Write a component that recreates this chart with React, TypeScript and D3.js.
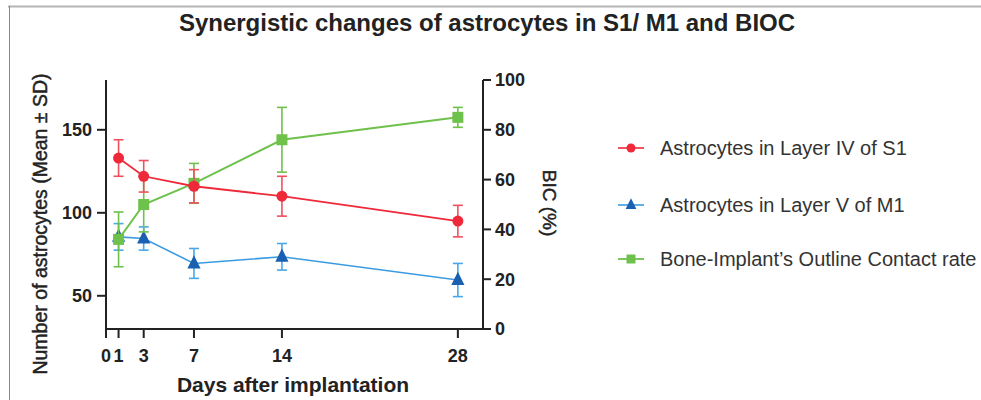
import React from "react";
import * as d3 from "d3";

const days = [1, 3, 7, 14, 28];
const xTicks = [0, 1, 3, 7, 14, 28];
const leftTicks = [50, 100, 150];
const rightTicks = [0, 20, 40, 60, 80, 100];

const s1Mean = [133, 122, 116, 110, 95];
const s1Sd = [11, 9.5, 10, 12, 9.5];
const m1Mean = [85.5, 84.5, 69.5, 73.5, 59.5];
const m1Sd = [8, 7, 9, 8, 10];
const bicMean = [36, 50, 58.5, 76, 85];
const bicSd = [11, 11, 8, 13, 4];

const seriesNames = [
  "Astrocytes in Layer IV of S1",
  "Astrocytes in Layer V of M1",
  "Bone-Implant\u2019s Outline Contact rate",
];

const FONT = "'Liberation Sans', Arial, Helvetica, sans-serif";

export default function App() {
  const W = 981;
  const H = 400;
  const x = d3.scaleLinear().domain([0, 30]).range([106, 483]);
  const yL = d3.scaleLinear().domain([30, 180]).range([329, 80]);
  const yR = d3.scaleLinear().domain([0, 100]).range([329, 80]);

  const red = "#ee2a3a";
  const redBar = "#f0505e";
  const blueLine = "#3b9be0";
  const blueMark = "#1a5fb0";
  const blueBar = "#4aa7e8";
  const green = "#6ec14b";

  const lineGen = (ys: d3.ScaleLinear<number, number>, vals: number[]) =>
    d3
      .line<number>()
      .x((_, i) => x(days[i]))
      .y((v) => ys(v))(vals) || "";

  const errBars = (
    ys: d3.ScaleLinear<number, number>,
    mean: number[],
    sd: number[],
    color: string,
    key: string
  ) =>
    mean.map((m, i) => {
      const cx = x(days[i]);
      const t = ys(m + sd[i]);
      const b = ys(m - sd[i]);
      const cw = 5;
      return (
        <g key={key + i} stroke={color} strokeWidth={1.6} fill="none">
          <line x1={cx} x2={cx} y1={t} y2={b} />
          <line x1={cx - cw} x2={cx + cw} y1={t} y2={t} />
          <line x1={cx - cw} x2={cx + cw} y1={b} y2={b} />
        </g>
      );
    });

  const triPath = (cx: number, cy: number, s: number) =>
    `M${cx},${cy - s * 0.75}L${cx + s * 0.6},${cy + s * 0.45}L${cx - s * 0.6},${cy + s * 0.45}Z`;

  const legendY = [148, 205, 259];
  const legendX = 631;

  return (
    <div style={{ position: "absolute", left: 0, top: 0 }}>
      <svg width={W} height={H} style={{ display: "block", background: "#fff" }}>
        <rect x={0} y={0} width={W} height={H} fill="#fff" />
        {/* frame lines */}
        <line x1={8} x2={W} y1={6.5} y2={6.5} stroke="#b4b4b4" strokeWidth={2} />
        <line x1={9.5} x2={9.5} y1={6} y2={H} stroke="#8a8a8a" strokeWidth={1} />

        {/* title */}
        <text
          x={487}
          y={31}
          textAnchor="middle"
          fontFamily={FONT}
          fontWeight="bold"
          fontSize={24}
          fill="#222"
        >
          Synergistic changes of astrocytes in S1/ M1 and BIOC
        </text>

        {/* axes */}
        <g stroke="#222" strokeWidth={2} fill="none">
          <line x1={x(0)} x2={x(0)} y1={yL(180)} y2={329} />
          <line x1={x(0) - 1} x2={x(30)} y1={329} y2={329} />
          <line x1={x(30)} x2={x(30)} y1={yR(100)} y2={329} />
          {leftTicks.map((t) => (
            <line key={"lt" + t} x1={x(0) - 9} x2={x(0)} y1={yL(t)} y2={yL(t)} />
          ))}
          {rightTicks.map((t) => (
            <line key={"rt" + t} x1={x(30)} x2={x(30) + 8} y1={yR(t)} y2={yR(t)} />
          ))}
          {xTicks.map((t) => (
            <line key={"xt" + t} x1={x(t)} x2={x(t)} y1={329} y2={338} />
          ))}
        </g>
        <g fontFamily={FONT} fontWeight="bold" fontSize={18} fill="#222">
          {leftTicks.map((t) => (
            <text key={"ltl" + t} x={x(0) - 14} y={yL(t)} dy="0.36em" textAnchor="end">
              {t}
            </text>
          ))}
          {rightTicks.map((t) => (
            <text key={"rtl" + t} x={x(30) + 12} y={yR(t)} dy="0.36em" textAnchor="start">
              {t}
            </text>
          ))}
          {xTicks.map((t) => (
            <text key={"xtl" + t} x={x(t)} y={362} textAnchor="middle">
              {t}
            </text>
          ))}
        </g>

        {/* axis titles */}
        <text
          transform={`translate(47,224) rotate(-90)`}
          textAnchor="middle"
          fontFamily={FONT}
          fontSize={19.5}
          fill="#222"
          stroke="#222"
          strokeWidth={0.45}
        >
          Number of astrocytes (Mean ± SD)
        </text>
        <text
          transform={`translate(543,203) rotate(90)`}
          textAnchor="middle"
          fontFamily={FONT}
          fontSize={19}
          fill="#222"
          stroke="#222"
          strokeWidth={0.45}
        >
          BIC (%)
        </text>
        <text
          x={293}
          y={392}
          textAnchor="middle"
          fontFamily={FONT}
          fontWeight="bold"
          fontSize={21}
          fill="#222"
        >
          Days after implantation
        </text>

        {/* blue series (M1) */}
        {errBars(yL, m1Mean, m1Sd, blueBar, "be")}
        <path d={lineGen(yL, m1Mean)} stroke={blueLine} strokeWidth={1.6} fill="none" />
        {m1Mean.map((v, i) => (
          <path key={"bm" + i} d={triPath(x(days[i]), yL(v), 11)} fill={blueMark} />
        ))}

        {/* green series (BIC) */}
        {errBars(yR, bicMean, bicSd, green, "ge")}
        <path d={lineGen(yR, bicMean)} stroke={green} strokeWidth={2} fill="none" />
        {bicMean.map((v, i) => (
          <rect
            key={"gm" + i}
            x={x(days[i]) - 5.5}
            y={yR(v) - 5.5}
            width={11}
            height={11}
            fill={green}
          />
        ))}

        {/* red series (S1) */}
        {errBars(yL, s1Mean, s1Sd, redBar, "re")}
        <path d={lineGen(yL, s1Mean)} stroke={red} strokeWidth={1.8} fill="none" />
        {s1Mean.map((v, i) => (
          <circle key={"rm" + i} cx={x(days[i])} cy={yL(v)} r={5.5} fill={red} />
        ))}

        {/* legend */}
        <g fontFamily={FONT} fontSize={20} fill="#333">
          <line x1={legendX - 13} x2={legendX + 13} y1={legendY[0]} y2={legendY[0]} stroke={red} strokeWidth={1.6} />
          <circle cx={legendX} cy={legendY[0]} r={4.5} fill={red} />
          <line x1={legendX - 13} x2={legendX + 13} y1={legendY[1]} y2={legendY[1]} stroke={blueLine} strokeWidth={1.6} />
          <path d={triPath(legendX, legendY[1], 9)} fill={blueMark} />
          <line x1={legendX - 13} x2={legendX + 13} y1={legendY[2]} y2={legendY[2]} stroke={green} strokeWidth={1.8} />
          <rect x={legendX - 4.5} y={legendY[2] - 4.5} width={9} height={9} fill={green} />
          {seriesNames.map((n, i) => (
            <text key={"lg" + i} x={660} y={legendY[i]} dy="0.35em">
              {n}
            </text>
          ))}
        </g>
      </svg>
    </div>
  );
}
